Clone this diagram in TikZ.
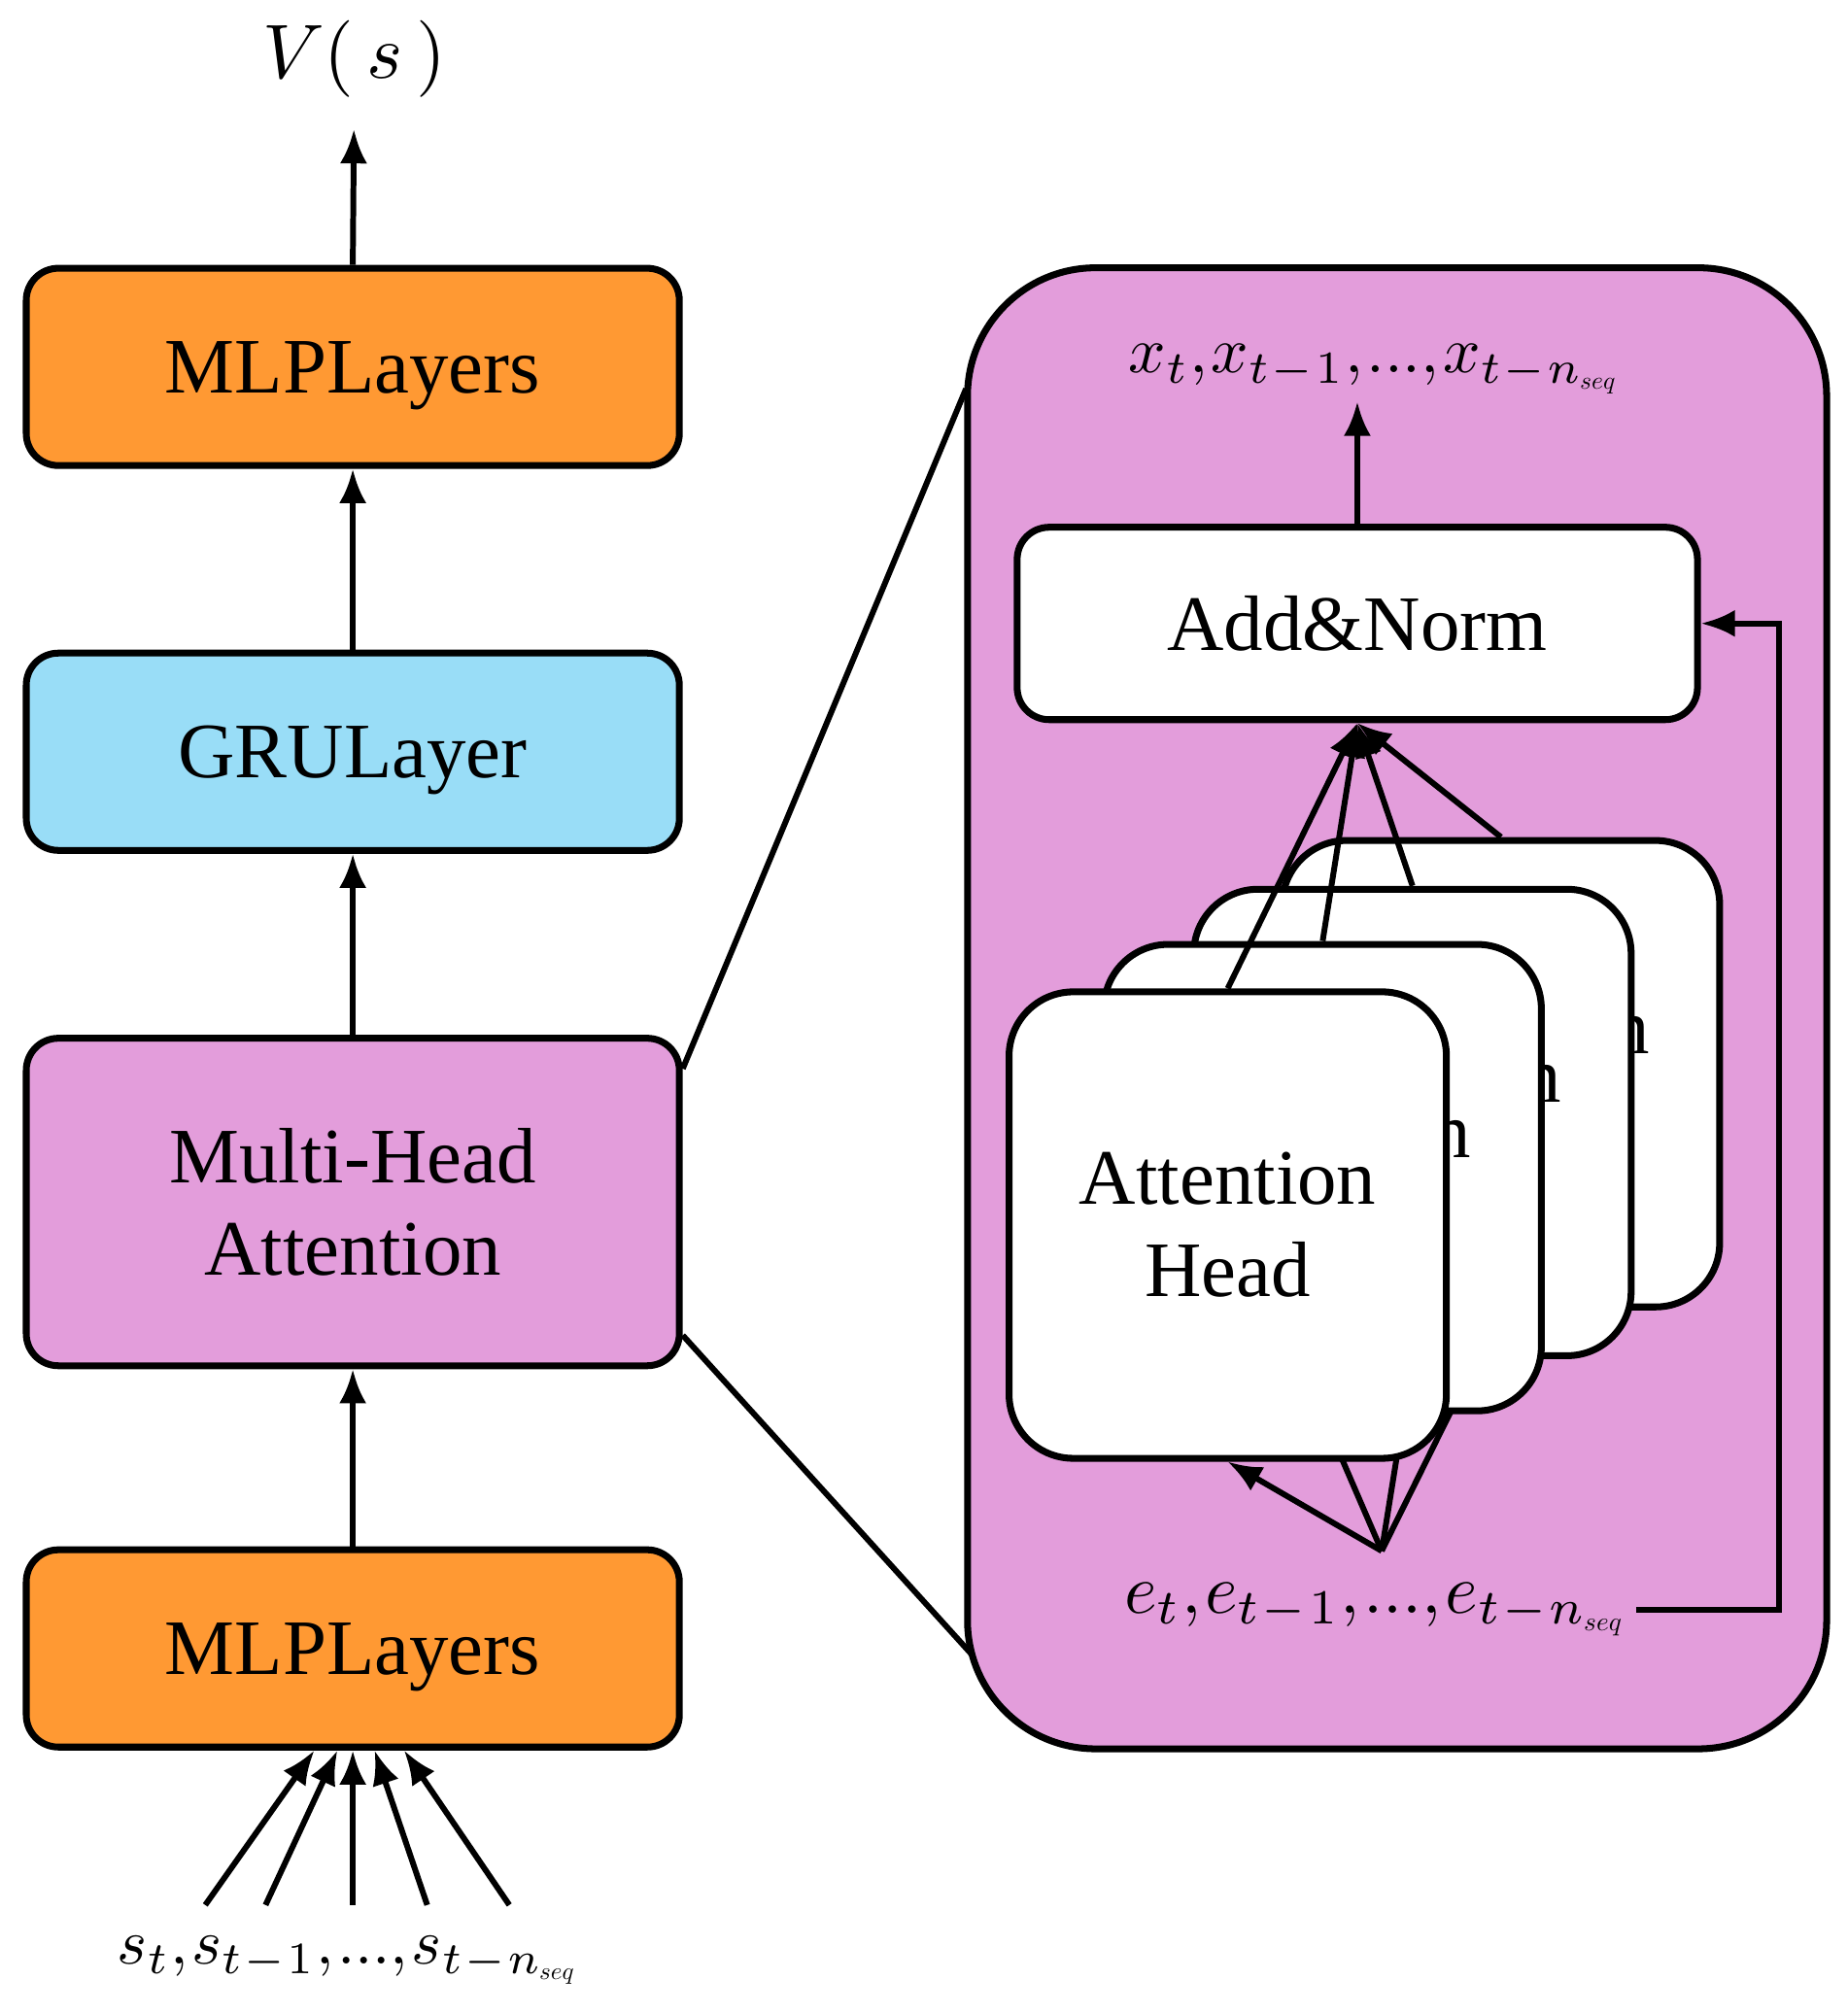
\documentclass[tikz,border=0pt]{standalone}
\usepackage[no-math]{fontspec}
\setmainfont{Liberation Serif}
\usetikzlibrary{arrows.meta,calc}
\definecolor{mlporange}{RGB}{255,153,51}
\definecolor{grublue}{RGB}{153,221,247}
\definecolor{attpink}{RGB}{227,157,219}
% sequence of vectors, e.g. x_t, x_{t-1}, ..., x_{t-n_seq}
\newcommand{\seqvars}[1]{$#1_t{,}\mkern1mu#1_{t\mkern1mu-\mkern1mu1}{,}\mkern1mu...{,}\mkern1mu#1_{t\mkern1mu-\mkern1mu n_{\scalebox{0.38}{$seq$}}}$}
\begin{document}
\begin{tikzpicture}[x=0.132mm, y=-0.132mm,
    layer/.style={draw, line width=2pt, rounded corners=0.33cm, minimum width=6.72cm, minimum height=2.03cm, align=center, font=\fontsize{23}{27}\selectfont},
    head/.style={draw, fill=white, line width=2pt, rounded corners=0.66cm, minimum width=4.5cm, minimum height=4.8cm, align=center, font=\fontsize{23}{27}\selectfont},
    arr/.style={line width=1.7pt, -{Latex[length=10pt,width=8pt]}},
    lbl/.style={inner sep=2pt}]
\useasboundingbox (0,0) rectangle (1440,1570);
% left column
\node [lbl] (value) at (276,46) {\scalebox{2.25}{$V(\,s\,)$}};
\node [layer, fill=mlporange, text depth=0pt] (mlptop) at (275,286) {MLPLayers};
\node [layer, fill=grublue, text depth=0pt] (gru) at (275,586) {GRULayer};
\node [layer, fill=attpink, minimum height=3.37cm] (mha) at (275,937) {Multi-Head\\Attention};
\node [layer, fill=mlporange, text depth=0pt] (mlpbot) at (275,1285) {MLPLayers};
\node [lbl] (states) at (272,1528) {\scalebox{1.88}{\seqvars{s}}};
\draw [arr, shorten >=0.25cm] (mlptop.north) -- (value.south);
\draw [arr] (gru.north) -- (mlptop.south);
\draw [arr] (mha.north) -- (gru.south);
\draw [arr] (mlpbot.north) -- (mha.south);
\foreach \i/\a/\d in {1/160/-30, 2/207/-12, 3/275/0, 4/333/17, 5/397/40} {
    \coordinate (in\i) at (\a,1485);
    \draw [arr] (in\i) -- ($(mlpbot.south)+(\d,0)$);
}
% zoom into the attention block
\coordinate (zoomtop) at (753,303);
\coordinate (zoombot) at (765,1298);
\draw [line width=1.7pt] (mha.22) -- (zoomtop);
\draw [line width=1.7pt] (mha.-22) -- (zoombot);
\node [draw, fill=attpink, line width=2pt, rounded corners=1.32cm, minimum width=8.84cm, minimum height=15.24cm] (panel) at (1089,786) {};
\node [lbl] (outputs) at (1072,288) {\scalebox{1.92}{\seqvars{x}}};
\node [layer, fill=white, minimum width=7.0cm, minimum height=1.98cm] (addnorm) at (1058,486) {Add\&Norm};
\node [lbl] (embeds) at (1073,1255) {\scalebox{2.05}{\seqvars{e}}};
\coordinate (fan) at (1077,1209);
\coordinate (loop) at (1387,1255);
\draw [arr] (addnorm.north) -- (addnorm.north |- outputs.south);
\draw [arr] (embeds.east) -| (loop) |- (addnorm.east);
\foreach \i/\x/\y in {4/1170/837, 3/1101/875, 2/1031/918, 1/957/955} {
    \node [head] (head\i) at (\x,\y) {Attention\\Head};
    \draw [arr] (head\i.north) -- (addnorm.south);
    \draw [arr] (fan) -- (head\i.south);
}
\end{tikzpicture}
\end{document}
